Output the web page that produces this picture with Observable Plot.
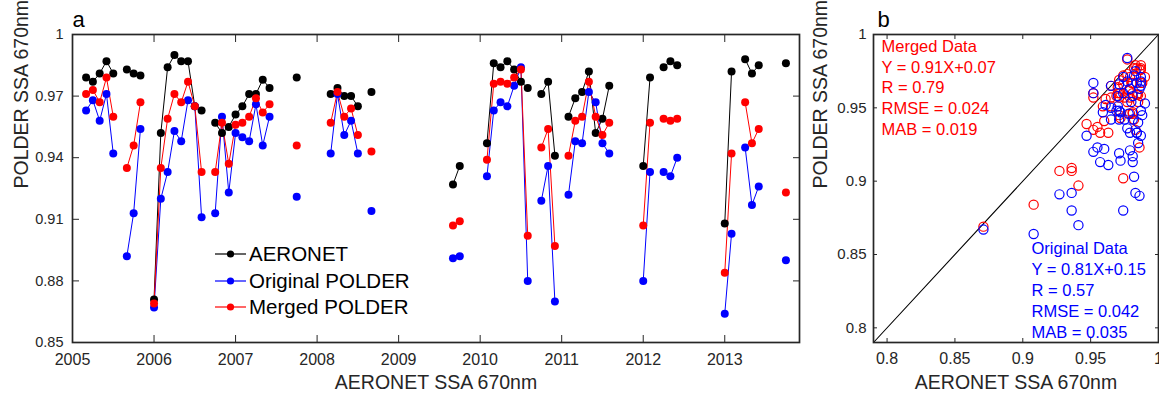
<!DOCTYPE html>
<html>
<head>
<meta charset="utf-8">
<script src="https://cdn.jsdelivr.net/npm/d3@7"></script>
<script src="https://cdn.jsdelivr.net/npm/@observablehq/plot@0.6"></script>
<style>
  html, body { margin: 0; padding: 0; background: #fff; }
  #fig { position: relative; width: 1159px; height: 393px; overflow: hidden; font-family: "Liberation Sans", Arial, sans-serif; color: #262626; }
  #fig > svg { position: absolute; top: 0; }
  .leg { position: absolute; display: flex; align-items: center; height: 26px; font-size: 20.5px; color: #000; white-space: nowrap; }
  .leg svg { margin-right: 3px; }
</style>
</head>
<body>
<div id="fig"></div>
<script>
// ---- data (monthly means) ----
const months = [
  "2005-03","2005-04","2005-05","2005-06","2005-07","2005-09","2005-10","2005-11",
  "2006-01","2006-02","2006-03","2006-04","2006-05","2006-06","2006-07","2006-08","2006-10","2006-11","2006-12",
  "2007-01","2007-02","2007-03","2007-04","2007-05","2007-06","2007-10",
  "2008-03","2008-04","2008-05","2008-06","2008-07","2008-09",
  "2009-09","2009-10",
  "2010-02","2010-03","2010-04","2010-05","2010-06","2010-07","2010-08","2010-10","2010-11","2010-12",
  "2011-02","2011-03","2011-04","2011-05","2011-06","2011-07","2011-08",
  "2012-01","2012-02","2012-04","2012-05","2012-06",
  "2013-01","2013-02","2013-04","2013-05","2013-06","2013-10"
];
const aeronet = [
  0.979,0.977,0.981,0.987,0.981,0.983,0.981,0.980,
  0.871,0.952,0.984,0.990,0.987,0.987,0.965,0.963,0.957,0.952,0.955,
  0.961,0.965,0.971,0.971,0.978,0.974,0.979,
  0.971,0.974,0.970,0.970,0.965,0.972,
  0.927,0.936,
  0.947,0.986,0.984,0.987,0.983,0.977,0.974,0.971,0.977,0.941,
  0.960,0.969,0.972,0.982,0.952,0.959,0.975,
  0.936,0.979,0.984,0.987,0.985,
  0.908,0.982,0.988,0.981,0.985,0.986
];
const original = [
  0.963,0.968,0.958,0.971,0.942,0.892,0.913,0.954,
  0.867,0.920,0.933,0.953,0.948,0.968,0.965,0.911,0.913,0.960,0.923,
  0.952,0.950,0.948,0.966,0.946,0.960,0.921,
  0.942,0.971,0.951,0.958,0.942,0.914,
  0.891,0.892,
  0.931,0.963,0.967,0.965,0.975,0.984,0.880,0.919,0.936,0.870,
  0.922,0.948,0.947,0.972,0.967,0.947,0.942,
  0.880,0.933,0.933,0.931,0.940,
  0.864,0.903,0.945,0.917,0.926,0.890
];
const merged = [
  0.971,0.973,0.967,0.979,0.960,0.935,0.946,0.967,
  0.869,0.935,0.959,0.971,0.967,0.977,0.965,0.933,0.933,0.957,0.937,
  0.956,0.957,0.960,0.969,0.962,0.966,0.946,
  0.957,0.972,0.960,0.964,0.951,0.943,
  0.907,0.909,
  0.939,0.976,0.977,0.976,0.979,0.983,0.902,0.945,0.954,0.897,
  0.941,0.958,0.960,0.977,0.960,0.951,0.957,
  0.907,0.957,0.959,0.958,0.959,
  0.884,0.942,0.967,0.947,0.954,0.923
];
const yearTicks = [2005,2006,2007,2008,2009,2010,2011,2012,2013];
const ssaTicksA = [0.85,0.88,0.91,0.94,0.97,1];
const ssaTicksB = [0.8,0.85,0.9,0.95,1];
const xDomainA = [2005, 2013 + 11/12];
const yDomainA = [0.85, 1];
const domainB = [0.79, 1];
const seriesNames = ["AERONET", "Original POLDER", "Merged POLDER"];
const seriesColors = ["#000000", "#0000ff", "#ff0000"];
const mergedStats = ["Merged Data", "Y = 0.91X+0.07", "R = 0.79", "RMSE = 0.024", "MAB = 0.019"];
const originalStats = ["Original Data", "Y = 0.81X+0.15", "R = 0.57", "RMSE = 0.042", "MAB = 0.035"];
const xLabel = "AERONET SSA 670nm";
const yLabel = "POLDER SSA 670nm";

// ---- build table ----
const monthIndex = months.map(m => (+m.slice(0,4)) * 12 + (+m.slice(5,7)) - 1);
let segId = 0;
const rows = months.map((m, i) => {
  if (i > 0 && monthIndex[i] - monthIndex[i-1] > 1) segId++;
  return {
    t: monthIndex[i] / 12,
    seg: segId,
    aeronet: aeronet[i],
    original: original[i],
    merged: merged[i]
  };
});
const keys = ["aeronet", "original", "merged"];

const fig = document.getElementById("fig");
const font = "'Liberation Sans', Arial, sans-serif";
const AX = "#262626";

// ---- panel a ----
const plotA = Plot.plot({
  width: 810, height: 393,
  marginLeft: 72, marginRight: 11, marginTop: 34, marginBottom: 51,
  style: { fontFamily: font, color: AX, background: "transparent", overflow: "visible" },
  x: { domain: xDomainA },
  y: { domain: yDomainA },
  marks: [
    ...keys.map((k, i) => Plot.line(rows, { x: "t", y: k, z: "seg", stroke: seriesColors[i], strokeWidth: 1 })),
    ...keys.map((k, i) => Plot.dot(rows, { x: "t", y: k, r: 4, fill: seriesColors[i], stroke: "none" })),
    Plot.frame({ stroke: AX, strokeWidth: 1.7 }),
    Plot.axisX({ ticks: yearTicks, tickSize: -7, tickPadding: 18, tickFormat: d => String(d), fontSize: 16, label: null }),
    Plot.axisX({ anchor: "top", ticks: yearTicks, tickSize: -7, tickFormat: () => "", label: null }),
    Plot.axisY({ ticks: ssaTicksA, tickSize: -7, tickPadding: 16, tickFormat: d => String(d), fontSize: 14.5, label: null }),
    Plot.axisY({ anchor: "right", ticks: ssaTicksA, tickSize: -7, tickFormat: () => "", label: null }),
    Plot.text([xLabel], { text: d => d, frameAnchor: "bottom", dy: 40.5, lineAnchor: "middle", fontSize: 19.5, fill: AX }),
    Plot.text([yLabel], { text: d => d, frameAnchor: "left", dx: -51, rotate: -90, lineAnchor: "middle", fontSize: 19.5, fill: AX }),
    Plot.text(["a"], { text: d => d, frameAnchor: "top-left", textAnchor: "start", lineAnchor: "bottom", dx: 0, dy: -8, fontSize: 22, fill: "#000" })
  ]
});
plotA.style.left = "0px";
fig.appendChild(plotA);

// ---- panel b ----
const plotB = Plot.plot({
  width: 359, height: 393,
  marginLeft: 73, marginRight: 1, marginTop: 34, marginBottom: 51,
  style: { fontFamily: font, color: AX, background: "transparent", overflow: "visible" },
  x: { domain: domainB },
  y: { domain: domainB },
  marks: [
    Plot.line(domainB.map(v => ({ v })), { x: "v", y: "v", stroke: "#000", strokeWidth: 1.1 }),
    Plot.dot(rows, { x: "aeronet", y: "merged", r: 4.6, stroke: seriesColors[2], fill: "none", strokeWidth: 1.2 }),
    Plot.dot(rows, { x: "aeronet", y: "original", r: 4.6, stroke: seriesColors[1], fill: "none", strokeWidth: 1.2 }),
    Plot.frame({ stroke: AX, strokeWidth: 1.7 }),
    Plot.axisX({ ticks: ssaTicksB, tickSize: -4, tickPadding: 14, tickFormat: d => String(d), fontSize: 16, label: null }),
    Plot.axisX({ anchor: "top", ticks: ssaTicksB, tickSize: -4, tickFormat: () => "", label: null }),
    Plot.axisY({ ticks: ssaTicksB, tickSize: -4, tickPadding: 11, tickFormat: d => String(d), fontSize: 15, label: null }),
    Plot.axisY({ anchor: "right", ticks: ssaTicksB, tickSize: -4, tickFormat: () => "", label: null }),
    Plot.text([mergedStats.join("\n")], { text: d => d, frameAnchor: "top-left", textAnchor: "start", lineAnchor: "top", dx: 8, dy: 2.5, lineHeight: 1.26, fontSize: 16.5, fill: seriesColors[2] }),
    Plot.text([originalStats.join("\n")], { text: d => d, frameAnchor: "bottom-left", textAnchor: "start", lineAnchor: "bottom", dx: 158, dy: -5, lineHeight: 1.26, fontSize: 16.5, fill: seriesColors[1] }),
    Plot.text([xLabel], { text: d => d, frameAnchor: "bottom", dy: 40.5, lineAnchor: "middle", fontSize: 19.5, fill: AX }),
    Plot.text([yLabel], { text: d => d, frameAnchor: "left", dx: -53, rotate: -90, lineAnchor: "middle", fontSize: 19.5, fill: AX }),
    Plot.text(["b"], { text: d => d, frameAnchor: "top-left", textAnchor: "start", lineAnchor: "bottom", dx: 4, dy: -8, fontSize: 22, fill: "#000" })
  ]
});
plotB.style.left = "800px";
fig.appendChild(plotB);

// ---- legend for panel a ----
const legendRowY = [254, 280.5, 307];
seriesNames.forEach((name, i) => {
  const row = document.createElement("div");
  row.className = "leg";
  row.style.left = "215px";
  row.style.top = (legendRowY[i] - 13) + "px";
  row.innerHTML = `<svg width="31" height="26"><line x1="0" y1="13" x2="31" y2="13" stroke="${seriesColors[i]}" stroke-width="1.2"/><circle cx="15.5" cy="13" r="3.6" fill="${seriesColors[i]}"/></svg><span>${name}</span>`;
  fig.appendChild(row);
});
</script>
</body>
</html>
